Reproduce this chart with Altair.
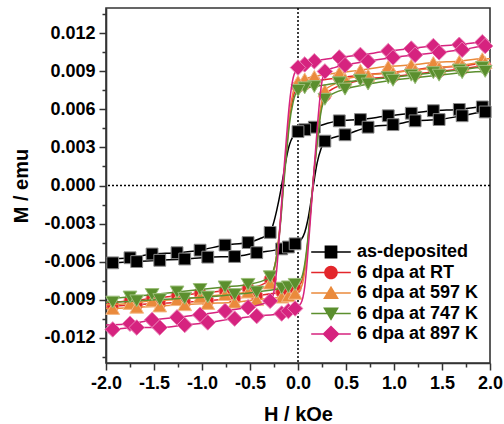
import altair as alt
import pandas as pd

SERIES = ["as-deposited", "6 dpa at RT", "6 dpa at 597 K", "6 dpa at 747 K", "6 dpa at 897 K"]
COLORS = ["#000000", "#e3262b", "#ea8a3c", "#5b8f2e", "#d6237f"]
OUTLINES = ["#8a8a8a", "#f08a8a", "#f4b987", "#9cbf7a", "#ea7fb5"]
SHAPES = ["square", "circle", "triangle-up", "triangle-down", "diamond"]
SIZES = [140, 150, 190, 190, 240]

# descending-field branch
H_UP = [2.0, 1.92, 1.68, 1.41, 1.18, 0.94, 0.65, 0.43, 0.17, 0.07, 0.0, -0.05, -0.09, -0.12,
        -0.15, -0.18, -0.22, -0.26, -0.29, -0.4, -0.52, -0.76, -1.02, -1.26, -1.52, -1.75, -2.0]
MARK_UP = [0, 1, 1, 1, 1, 1, 1, 1, 1, 1, 1, 0, 0, 0, 0, 0, 0, 0, 1, 0, 1, 1, 1, 1, 1, 1, 0]
# ascending-field branch
H_LO = [-2.0, -1.93, -1.68, -1.44, -1.18, -0.94, -0.66, -0.43, -0.17, -0.10, -0.03, 0.03, 0.07, 0.10,
        0.13, 0.16, 0.20, 0.24, 0.28, 0.38, 0.49, 0.73, 0.99, 1.22, 1.47, 1.71, 1.95, 2.0]
MARK_LO = [0, 1, 1, 1, 1, 1, 1, 1, 1, 1, 1, 0, 0, 0, 0, 0, 0, 0, 1, 0, 1, 1, 1, 1, 1, 1, 1, 0]

M_UP_ASDEP = [0.0062, 0.0062, 0.0060, 0.0059, 0.0057, 0.0055, 0.0052, 0.0051, 0.0046, 0.0044, 0.00425,
              0.0039, 0.0032, 0.0022, 0.0009, -0.0004, -0.0019, -0.0031, -0.0037, -0.0042, -0.0045,
              -0.0047, -0.0051, -0.0053, -0.0054, -0.0057, -0.0058]
M_LO_ASDEP = [-0.0062, -0.0061, -0.0060, -0.0059, -0.0058, -0.00565, -0.0056, -0.0053, -0.0050, -0.00485,
              -0.0046, -0.0043, -0.0037, -0.0028, -0.0015, 0.0, 0.0018, 0.0029, 0.0035, 0.0038, 0.0040,
              0.0046, 0.0048, 0.0051, 0.0052, 0.0055, 0.0058, 0.0058]
M_UP_RT = [0.0096, 0.0096, 0.0094, 0.0093, 0.0091, 0.0089, 0.0087, 0.0085, 0.0082, 0.0080, 0.0078,
           0.0070, 0.0052, 0.0028, 0.0003, -0.0026, -0.0054, -0.0069, -0.0074, -0.0079, -0.0081,
           -0.0083, -0.0085, -0.0087, -0.0089, -0.0091, -0.0092]
M_LO_RT = [-0.0095, -0.0095, -0.0094, -0.0093, -0.0092, -0.0091, -0.0089, -0.0087, -0.0084, -0.0083,
           -0.0081, -0.0077, -0.0065, -0.0046, -0.0021, 0.0005, 0.0036, 0.0061, 0.0071, 0.0077, 0.0080,
           0.0084, 0.0086, 0.0088, 0.0090, 0.0092, 0.0094, 0.0094]
M_UP_597 = [0.0100, 0.0100, 0.0098, 0.0097, 0.0095, 0.0094, 0.0091, 0.0089, 0.0086, 0.0084, 0.0082,
            0.0074, 0.0056, 0.0031, 0.0005, -0.0025, -0.0054, -0.0071, -0.0077, -0.0082, -0.0084,
            -0.0086, -0.0088, -0.0090, -0.0091, -0.0093, -0.0094]
M_LO_597 = [-0.0097, -0.0097, -0.0096, -0.0095, -0.0094, -0.0093, -0.0092, -0.0090, -0.0088, -0.0087,
            -0.0085, -0.0081, -0.0068, -0.0048, -0.0022, 0.0005, 0.0037, 0.0063, 0.0075, 0.0080, 0.0084,
            0.0087, 0.0089, 0.0091, 0.0093, 0.0095, 0.0097, 0.0097]
M_UP_747 = [0.0093, 0.0093, 0.0091, 0.0089, 0.0087, 0.0085, 0.0083, 0.0081, 0.0078, 0.0077, 0.0075,
            0.0066, 0.0048, 0.0025, 0.0, -0.0028, -0.0055, -0.0068, -0.0072, -0.0076, -0.0078,
            -0.0080, -0.0082, -0.0084, -0.0086, -0.0088, -0.0089]
M_LO_747 = [-0.0092, -0.0092, -0.0091, -0.0090, -0.0089, -0.0088, -0.0086, -0.0084, -0.0081, -0.0080,
            -0.0078, -0.0074, -0.0062, -0.0044, -0.0020, 0.0005, 0.0034, 0.0058, 0.0068, 0.0073, 0.0076,
            0.0080, 0.0083, 0.0085, 0.0087, 0.0089, 0.0090, 0.0090]
M_UP_897 = [0.0113, 0.0113, 0.0111, 0.0110, 0.0108, 0.0106, 0.0103, 0.0101, 0.0098, 0.00955, 0.0093,
            0.0085, 0.0064, 0.0038, 0.0009, -0.0024, -0.0065, -0.0087, -0.0091, -0.0094, -0.0096,
            -0.0099, -0.0102, -0.0104, -0.0106, -0.0109, -0.0110]
M_LO_897 = [-0.0114, -0.01135, -0.0112, -0.0112, -0.0110, -0.0108, -0.0105, -0.0103, -0.0101, -0.0099,
            -0.0097, -0.0093, -0.0080, -0.0056, -0.0026, 0.0005, 0.0045, 0.0077, 0.0090, 0.0093, 0.0095,
            0.0098, 0.0101, 0.0103, 0.0105, 0.0107, 0.0110, 0.0110]

M_UP = [M_UP_ASDEP, M_UP_RT, M_UP_597, M_UP_747, M_UP_897]
M_LO = [M_LO_ASDEP, M_LO_RT, M_LO_597, M_LO_747, M_LO_897]

X_TICKS = [-2.0, -1.75, -1.5, -1.25, -1.0, -0.75, -0.5, -0.25, 0.0, 0.25, 0.5, 0.75, 1.0, 1.25, 1.5, 1.75, 2.0]
Y_TICKS = [-0.0135, -0.012, -0.0105, -0.009, -0.0075, -0.006, -0.0045, -0.003, -0.0015, 0.0,
           0.0015, 0.003, 0.0045, 0.006, 0.0075, 0.009, 0.0105, 0.012, 0.0135]

rows = []
for i, s in enumerate(SERIES):
    for h, m, k in zip(H_UP, M_UP[i], MARK_UP):
        rows.append({"series": s, "branch": "up", "H": h, "M": m, "marker": k})
    for h, m, k in zip(H_LO, M_LO[i], MARK_LO):
        rows.append({"series": s, "branch": "down", "H": h, "M": m, "marker": k})
df = pd.DataFrame(rows)
zero_df = pd.DataFrame({"z": [0.0]})

FONT = "Liberation Sans"
AX = "#333333"

x_major = "abs(datum.value*2 - round(datum.value*2)) < 0.001"
y_major = "abs(datum.value/0.003 - round(datum.value/0.003)) < 0.01"

x_axis = alt.Axis(
    title="H / kOe", values=X_TICKS, grid=False,
    labelExpr=x_major + " ? replace(format(datum.value, '.1f'), '\u2212', '-') : ''",
    tickSize={"condition": {"test": x_major, "value": 7}, "value": 4},
    tickColor=AX, tickWidth=1.5, domainColor=AX, domainWidth=1.6,
    labelFont=FONT, labelFontWeight="bold", labelFontSize=18, labelColor="black",
    labelPadding=4, labelOverlap=False, labelFlush=False,
    titleFont=FONT, titleFontWeight="bold", titleFontSize=20, titleColor="black", titlePadding=12,
)
y_axis = alt.Axis(
    title="M / emu", values=Y_TICKS, grid=False,
    labelExpr=y_major + " ? replace(format(datum.value, '.3f'), '\u2212', '-') : ''",
    tickSize={"condition": {"test": y_major, "value": 7}, "value": 4},
    tickColor=AX, tickWidth=1.5, domainColor=AX, domainWidth=1.6,
    labelFont=FONT, labelFontWeight="bold", labelFontSize=18, labelColor="black",
    labelPadding=4, labelOverlap=False, labelFlush=False,
    titleFont=FONT, titleFontWeight="bold", titleFontSize=20, titleColor="black", titlePadding=12,
)
x_scale = alt.Scale(domain=[-2, 2], nice=False, zero=False)
y_scale = alt.Scale(domain=[-0.014, 0.014], nice=False, zero=False)

X = alt.X("H:Q", scale=x_scale, axis=x_axis)
Y = alt.Y("M:Q", scale=y_scale, axis=y_axis)
color_scale = alt.Scale(domain=SERIES, range=COLORS)

LINE = "M-1.8,-0.07H1.8V0.07H-1.8Z "
LEG_PATHS = [
    LINE + "M-0.58,-0.58H0.58V0.58H-0.58Z",
    LINE + "M0.62,0A0.62,0.62,0,1,1,-0.62,0A0.62,0.62,0,1,1,0.62,0Z",
    LINE + "M0,-0.65L0.72,0.55H-0.72Z",
    LINE + "M0,0.65L-0.72,-0.55H0.72Z",
    LINE + "M0,-0.78L0.78,0L0,0.78L-0.78,0Z",
]

legend = alt.Legend(
    title=None, orient="none", legendX=214, legendY=233, padding=0,
    labelFont=FONT, labelFontWeight="bold", labelFontSize=18, labelColor="black",
    labelOffset=15, labelLimit=300, symbolSize=484, symbolStrokeWidth=0, symbolOpacity=1,
    rowPadding=0.5,
)

legend_layer = alt.Chart(df).transform_filter("datum.H > 100").mark_point(filled=True, opacity=1).encode(
    x=X, y=Y,
    color=alt.Color("series:N", scale=color_scale, legend=legend),
    shape=alt.Shape("series:N", scale=alt.Scale(domain=SERIES, range=LEG_PATHS), legend=legend),
)

vrule = alt.Chart(zero_df).mark_rule(color="black", strokeWidth=1.5, strokeDash=[2, 2]).encode(
    x=alt.X("z:Q", scale=x_scale, axis=x_axis))
hrule = alt.Chart(zero_df).mark_rule(color="black", strokeWidth=1.5, strokeDash=[2, 2]).encode(
    y=alt.Y("z:Q", scale=y_scale, axis=y_axis))

layers = [legend_layer, vrule, hrule]
for i, s in enumerate(SERIES):
    line = alt.Chart(df).transform_filter(alt.datum.series == s).mark_line(
        interpolate="monotone", strokeWidth=1.5).encode(
        x=X, y=Y, color=alt.Color("series:N", scale=color_scale, legend=None),
        detail="branch:N")
    pts = alt.Chart(df).transform_filter(
        (alt.datum.series == s) & (alt.datum.marker == 1)).mark_point(
        filled=True, shape=SHAPES[i], size=SIZES[i], stroke=OUTLINES[i], strokeWidth=1,
        opacity=1).encode(
        x=X, y=Y, color=alt.Color("series:N", scale=color_scale, legend=None))
    layers += [line, pts]

chart = alt.layer(*layers).properties(
    width=384, height=355,
    autosize=alt.AutoSizeParams(type="none"),
    padding={"left": 106, "top": 8, "right": 14, "bottom": 61},
).configure_view(stroke=AX, strokeWidth=1.6)

chart.save("out.html", embed_options={"renderer": "svg", "actions": False})
